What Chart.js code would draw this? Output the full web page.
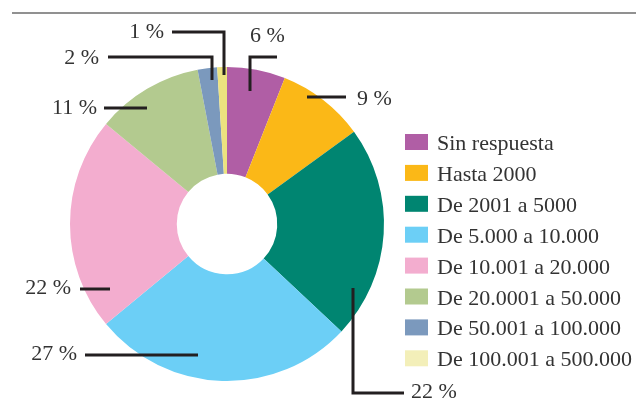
<!DOCTYPE html>
<html>
<head>
<meta charset="utf-8">
<script src="https://cdn.jsdelivr.net/npm/chart.js@4.4.1/dist/chart.umd.min.js"></script>
<style>
  html, body { margin: 0; padding: 0; background: #fff; }
  canvas { display: block; }
</style>
</head>
<body>
<canvas id="ingresos" width="636" height="403"></canvas>
<script>
// categorías y porcentajes
const categories = [
  'Sin respuesta',
  'Hasta 2000',
  'De 2001 a 5000',
  'De 5.000 a 10.000',
  'De 10.001 a 20.000',
  'De 20.0001 a 50.000',
  'De 50.001 a 100.000',
  'De 100.001 a 500.000',
];
const percents = [6, 9, 22, 27, 22, 11, 2, 1];
const valueLabels = ['6 %', '9 %', '22 %', '27 %', '22 %', '11 %', '2 %', '1 %'];

const sliceColors = ['#b05ea5', '#fbb817', '#008571', '#6ccff6', '#f3adcf', '#b3ca8f', '#7b99bd', '#ece27f'];
const legendColors = ['#b05ea5', '#fbb817', '#008571', '#6ccff6', '#f3adcf', '#b3ca8f', '#7b99bd', '#f3efb9'];

// líneas guía: puntos relativos al centro del anillo, texto y alineación
const leaders = [
  { pts: [[23, -133], [23, -167], [50, -167]], text: [23, -188], align: 'left' },
  { pts: [[80, -127], [119, -127]], text: [130, -125], align: 'left' },
  { pts: [[126, 64], [126, 169], [177, 169]], text: [184, 168], align: 'left' },
  { pts: [[-29, 131], [-142, 131]], text: [-150, 130], align: 'right' },
  { pts: [[-117, 65], [-147, 65]], text: [-156, 64], align: 'right' },
  { pts: [[-80, -116], [-123, -116]], text: [-130, -116], align: 'right' },
  { pts: [[-15, -144], [-15, -167], [-119, -167]], text: [-128, -166], align: 'right' },
  { pts: [[-3, -149], [-3, -192], [-55, -192]], text: [-63, -192], align: 'right' },
];

const FONT = '22px "Liberation Serif", "DejaVu Serif", serif';
const TEXT = '#333333';

const decor = {
  id: 'decor',
  afterDraw(chart) {
    const ctx = chart.ctx;
    const arc = chart.getDatasetMeta(0).data[0];
    const cx = arc.x, cy = arc.y;

    ctx.save();
    // línea superior
    ctx.strokeStyle = '#6d6d6d';
    ctx.lineWidth = 1.5;
    ctx.beginPath();
    ctx.moveTo(12, 13);
    ctx.lineTo(chart.width, 13);
    ctx.stroke();

    // líneas guía y porcentajes
    ctx.strokeStyle = '#231f20';
    ctx.lineWidth = 3;
    ctx.lineCap = 'butt';
    ctx.lineJoin = 'miter';
    ctx.font = FONT;
    ctx.fillStyle = TEXT;
    ctx.textBaseline = 'middle';
    leaders.forEach((l, i) => {
      ctx.beginPath();
      l.pts.forEach(([dx, dy], j) => {
        if (j === 0) ctx.moveTo(cx + dx, cy + dy);
        else ctx.lineTo(cx + dx, cy + dy);
      });
      ctx.stroke();
      ctx.textAlign = l.align;
      ctx.fillText(valueLabels[i], cx + l.text[0], cy + l.text[1]);
    });

    // leyenda
    ctx.textAlign = 'left';
    ctx.textBaseline = 'alphabetic';
    categories.forEach((name, i) => {
      const y = 134 + i * 30.9;
      ctx.fillStyle = legendColors[i];
      ctx.fillRect(405, y, 23, 16);
      ctx.fillStyle = TEXT;
      ctx.fillText(name, 437, y + 16);
    });
    ctx.restore();
  },
};

new Chart(document.getElementById('ingresos'), {
  type: 'doughnut',
  data: {
    labels: categories,
    datasets: [{
      data: percents,
      backgroundColor: sliceColors,
      borderWidth: 0,
    }],
  },
  options: {
    responsive: false,
    animation: false,
    cutout: '32%',
    events: [],
    layout: { padding: { left: 70, top: 67, right: 252, bottom: 22 } },
    plugins: {
      legend: { display: false },
      tooltip: { enabled: false },
    },
  },
  plugins: [decor],
});
</script>
</body>
</html>
